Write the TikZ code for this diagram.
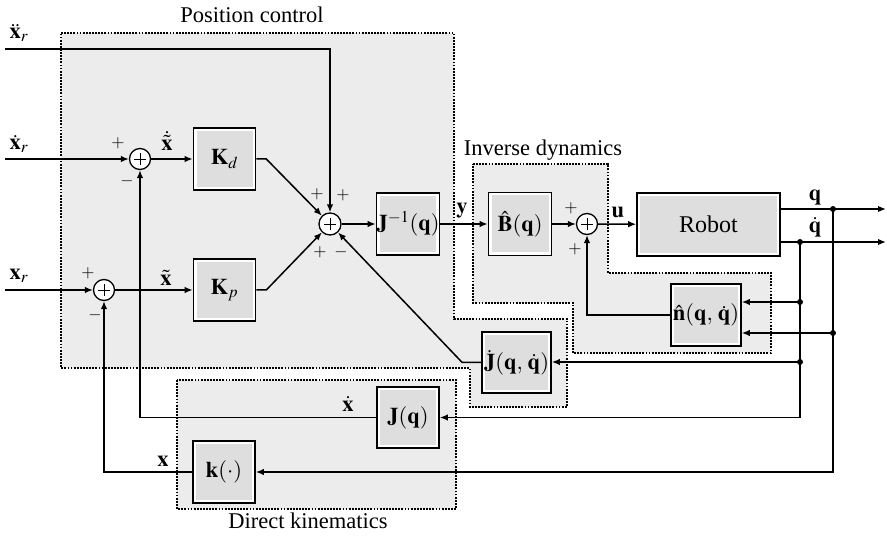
\documentclass[tikz,border=0pt]{standalone}
\usepackage{mathptmx}
\usepackage[no-math]{fontspec}
\setmainfont{Liberation Serif}
\usetikzlibrary{arrows.meta,calc}
\definecolor{regfill}{gray}{0.925}
\definecolor{boxin}{gray}{0.87}
\begin{document}
\begin{tikzpicture}[x=1pt,y=-1pt, line width=1.5pt,
  >={Latex[length=8pt,width=6.5pt]},
  font=\fontsize{22.5}{26}\selectfont,
  blk/.style={draw, line width=1.6pt, fill=white, minimum width=62pt, minimum height=62pt, inner sep=0pt,
    path picture={\fill[boxin] ([shift={(3pt,3pt)}]path picture bounding box.south west) rectangle ([shift={(-3pt,-3pt)}]path picture bounding box.north east);}},
  sumn/.style={draw, circle, line width=1.3pt, fill=white, minimum size=21pt, inner sep=0pt,
    path picture={\draw[line width=0.8pt] ([xshift=-6pt]path picture bounding box.center) -- ([xshift=6pt]path picture bounding box.center);
                  \draw[line width=0.8pt] ([yshift=-6pt]path picture bounding box.center) -- ([yshift=6pt]path picture bounding box.center);}},
  region/.style={fill=regfill, draw=black, line width=1.1pt, dash pattern=on 1.8pt off 1.3pt},
  sgn/.style={font=\fontsize{17}{20}\selectfont, inner sep=0pt},
  lbl/.style={inner sep=0pt},
  dot/.style={fill=black}
]
\useasboundingbox (0,0) rectangle (887,537);

% regions
\path[region] (61,33) -- (454,33) -- (454,319) -- (567,319) -- (567,407) -- (470,407) -- (470,368) -- (61,368) -- cycle;
\path[region] (473,164) -- (608,164) -- (608,273) -- (771,273) -- (771,353) -- (573,353) -- (573,303) -- (473,303) -- cycle;
\path[region] (177,380) rectangle (456,509);

\node[lbl] (tpc) at (252,15) {Position control};
\node[lbl] (tid) at (543,150) {Inverse dynamics};
\node[lbl] (tdk) at (308,521) {Direct kinematics};

% blocks
\node[blk] (Kd) at (224.5,159) {$\mathbf{K}_d$};
\node[blk] (Kp) at (224.5,290) {$\mathbf{K}_p$};
\node[blk] (Jinv) at (408,224) {$\mathbf{J}^{-1}(\mathbf{q})$};
\node[blk, minimum width=63pt, minimum height=63pt] (B) at (520,224) {$\hat{\mathbf{B}}(\mathbf{q})$};
\node[blk, minimum width=143pt, minimum height=63pt] (R) at (708.5,224.5) {\fontsize{24}{28}\selectfont Robot};
\node[blk, minimum width=70pt] (n) at (706,315) {$\hat{\mathbf{n}}(\mathbf{q},\,\dot{\mathbf{q}})$};
\node[blk, minimum width=69pt, minimum height=61pt] (Jd) at (516.5,362.5) {$\dot{\mathbf{J}}(\mathbf{q},\,\dot{\mathbf{q}})$};
\node[blk, minimum height=61pt] (J) at (408,417.5) {$\mathbf{J}(\mathbf{q})$};
\node[blk] (k) at (224,472) {$\mathbf{k}(\cdot)$};

% summing junctions
\node[sumn] (s1) at (140,159) {};
\node[sumn] (s2) at (104,290) {};
\node[sumn, minimum size=22pt] (sC) at (330,224) {};
\node[sumn] (s3) at (587,224) {};

% signs
\node[sgn] (p1a) at (118,143) {$+$};
\node[sgn] (m1a) at (127,181) {$-$};
\node[sgn] (p2a) at (88,273) {$+$};
\node[sgn] (m2a) at (95,315) {$-$};
\node[sgn] (pca) at (317,194) {$+$};
\node[sgn] (pcb) at (343,195) {$+$};
\node[sgn] (pcc) at (320,252) {$+$};
\node[sgn] (mcd) at (341,252) {$-$};
\node[sgn] (p3a) at (571,208) {$+$};
\node[sgn] (p3b) at (575,249) {$+$};

% signal labels
\node[lbl] (lxdd) at (19,33) {$\ddot{\mathbf{x}}_r$};
\node[lbl] (lxd) at (19,144) {$\dot{\mathbf{x}}_r$};
\node[lbl] (lxr) at (19,276) {$\mathbf{x}_r$};
\node[lbl] (lexd) at (167,141) {$\dot{\tilde{\mathbf{x}}}$};
\node[lbl] (lex) at (166,278) {$\tilde{\mathbf{x}}$};
\node[lbl] (ly) at (462,211) {$\mathbf{y}$};
\node[lbl] (lu) at (618,212) {$\mathbf{u}$};
\node[lbl] (lq) at (815,197) {$\mathbf{q}$};
\node[lbl] (lqd) at (815,227) {$\dot{\mathbf{q}}$};
\node[lbl] (lxdot) at (348,404) {$\dot{\mathbf{x}}$};
\node[lbl] (lx) at (163,461) {$\mathbf{x}$};

% coordinates
\coordinate (xdd) at (5,49);
\coordinate (xd) at (5,159);
\coordinate (xr) at (5,290);
\coordinate (qend) at (886,209);
\coordinate (qdend) at (886,242);
\coordinate (jq) at (833,209);
\coordinate (jqd) at (800,242);
\coordinate (d1) at (800,302);
\coordinate (d2) at (833,333);
\coordinate (d3) at (800,362);

% connectors
\draw[->] (xdd) -| (sC.north);
\draw[->] (xd) -- (s1);
\draw[->] (xr) -- (s2);
\draw[->] (s1) -- (Kd);
\draw[->] (s2) -- (Kp);
\draw[->] (Kd.east) -- ++(10pt,0) -- (sC);
\draw[->] (Kp.east) -- ++(10pt,0) -- (sC);
\draw[->] (Jd.west) -- ++(-19pt,0) -- (sC);
\draw[->] (sC) -- (Jinv);
\draw[->] (Jinv) -- (B);
\draw[->] (B) -- (s3);
\draw[->] (s3) -- (R);
\draw[->] ([yshift=15.5pt]R.east) -- (qend);
\draw[->] ([yshift=-17.5pt]R.east) -- (qdend);
\draw[->] (jq) |- (k.east);
\draw[->] (jqd) |- (J.east);
\draw[->] (d1) -- (d1 -| n.east);
\draw[->] (d2) -- (d2 -| n.east);
\draw[->] (d3) -- (d3 -| Jd.east);
\draw[->] (n.west) -| (s3.south);
\draw[->] (J.west) -| (s1.south);
\draw[->] (k.west) -| (s2.south);

% junction dots
\foreach \p in {jq,jqd,d1,d2,d3} \fill[dot] (\p) circle (3pt);
\end{tikzpicture}
\end{document}
